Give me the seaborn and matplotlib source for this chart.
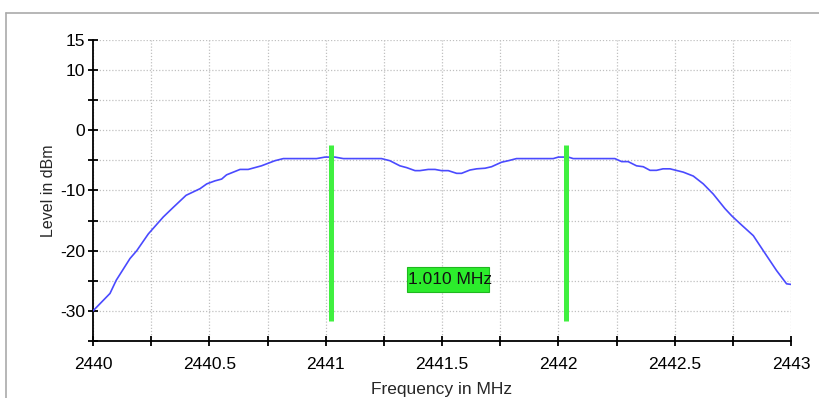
import matplotlib
matplotlib.use("Agg")
import matplotlib.pyplot as plt
from matplotlib.lines import Line2D
from matplotlib.patches import Rectangle
import numpy as np
import pandas as pd
import seaborn as sns

# Measured spectrum trace (frequency in MHz, level in dBm)
freq_mhz = [2440.000, 2440.073, 2440.100, 2440.159, 2440.188, 2440.238, 2440.302,
            2440.345, 2440.400, 2440.460, 2440.489, 2440.524, 2440.553, 2440.574,
            2440.632, 2440.667, 2440.724, 2440.782, 2440.818, 2440.961, 2440.997,
            2441.040, 2441.076, 2441.240, 2441.276, 2441.319, 2441.348, 2441.384,
            2441.405, 2441.441, 2441.470, 2441.498, 2441.527, 2441.563, 2441.584,
            2441.620, 2441.649, 2441.685, 2441.713, 2441.756, 2441.785, 2441.820,
            2441.978, 2442.000, 2442.043, 2442.064, 2442.243, 2442.272, 2442.300,
            2442.336, 2442.365, 2442.394, 2442.422, 2442.450, 2442.480, 2442.537,
            2442.580, 2442.623, 2442.666, 2442.716, 2442.745, 2442.781, 2442.838,
            2442.880, 2442.938, 2442.981, 2443.000]
level_dbm = [-30.0, -27.1, -24.9, -21.3, -20.0, -17.2, -14.4,
             -12.8, -10.8, -9.7, -8.9, -8.4, -8.1, -7.4,
             -6.5, -6.5, -5.9, -5.05, -4.7, -4.7, -4.45,
             -4.45, -4.7, -4.7, -5.05, -5.9, -6.2, -6.7,
             -6.7, -6.5, -6.5, -6.7, -6.7, -7.15, -7.15,
             -6.6, -6.4, -6.3, -6.05, -5.3, -5.05, -4.7,
             -4.7, -4.45, -4.45, -4.7, -4.7, -5.2, -5.2,
             -5.9, -6.05, -6.65, -6.65, -6.4, -6.4, -6.95,
             -7.6, -8.9, -10.6, -13.0, -14.2, -15.5, -17.5,
             -19.95, -23.3, -25.5, -25.6]

# Bandwidth markers
marker_freqs = [2441.023, 2442.033]
marker_span = [-31.7, -2.4]
bandwidth_label = "1.010 MHz"
label_box_x = [2441.350, 2441.702]
label_box_y = [-26.9, -22.7]

x_ticks = [2440 + 0.25 * i for i in range(13)]
x_tick_labels = ["2440", "", "2440.5", "", "2441", "", "2441.5", "",
                 "2442", "", "2442.5", "", "2443"]
y_ticks = [-35, -30, -25, -20, -15, -10, -5, 0, 5, 10, 15]
y_tick_labels = ["", "-30", "", "-20", "", "-10", "", "0", "", "10", "15"]

sns.set_theme(style="white")
plt.rcParams["font.family"] = ["Liberation Sans", "DejaVu Sans"]

fig = plt.figure(figsize=(8.2, 3.98), dpi=100)
ax = fig.add_axes([93 / 820, 1 - 341 / 398, (791 - 93) / 820, (341 - 40) / 398])

df = pd.DataFrame({"Frequency": freq_mhz, "Level": level_dbm})
sns.lineplot(data=df, x="Frequency", y="Level", ax=ax, color="#4a4aff",
             linewidth=1.2, zorder=3)

green = "#40f040"
for f in marker_freqs:
    ax.plot([f, f], marker_span, color=green, linewidth=3.6, solid_capstyle="butt",
            zorder=4)

# Bandwidth readout box
box = Rectangle((label_box_x[0], label_box_y[0]),
                label_box_x[1] - label_box_x[0], label_box_y[1] - label_box_y[0],
                facecolor="#2cec2c", edgecolor="#1fb81f", linewidth=0.8, zorder=5)
ax.add_patch(box)
txt = ax.text(label_box_x[0] + 0.006, (label_box_y[0] + label_box_y[1]) / 2,
              bandwidth_label, fontsize=12.5, color="#111111",
              va="center", ha="left", zorder=6)
txt.set_clip_path(box)

ax.set_xlim(2440, 2443)
ax.set_ylim(-35, 15)
ax.set_xticks(x_ticks)
ax.set_xticklabels(x_tick_labels, fontsize=12.5)
ax.set_yticks(y_ticks)
ax.set_yticklabels(y_tick_labels, fontsize=12.5)

ax.grid(True, color="#c0c0c0", linestyle=(0, (1, 1.5)), linewidth=0.9)
ax.set_axisbelow(True)
for side in ("top", "right"):
    ax.spines[side].set_visible(False)
for side in ("left", "bottom"):
    ax.spines[side].set_color("black")
    ax.spines[side].set_linewidth(1.3)

ax.tick_params(axis="both", direction="inout", length=7, width=1.3, colors="black",
               left=True, bottom=True)
ax.tick_params(axis="x", pad=8)
ax.tick_params(axis="y", pad=2)

ax.set_xlabel("Frequency in MHz", fontsize=12.5, labelpad=7)
ax.set_ylabel("Level in dBm", fontsize=11.5, labelpad=3)

# Panel frame
fig.add_artist(Line2D([6 / 820, 1], [1 - 13 / 398, 1 - 13 / 398],
                      transform=fig.transFigure, color="#aaaaaa", linewidth=1.2))
fig.add_artist(Line2D([6 / 820, 6 / 820], [0, 1 - 13 / 398],
                      transform=fig.transFigure, color="#aaaaaa", linewidth=1.2))

fig.savefig("out.png", dpi=100)
